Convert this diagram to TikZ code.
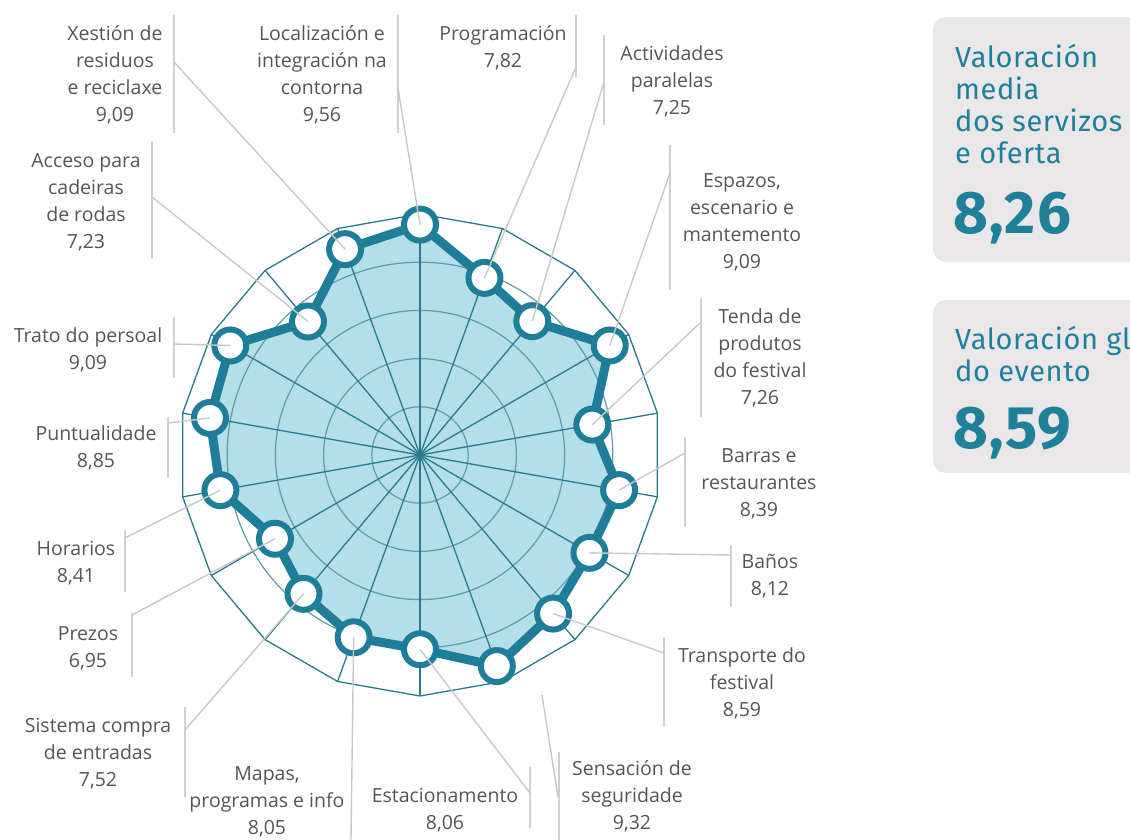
\documentclass[tikz,border=0pt]{standalone}
\usepackage{fontspec}
\newfontfamily\labfont{Open Sans}
\newfontfamily\boxfont[LetterSpace=2]{Fira Sans}
\definecolor{tealc}{RGB}{30,126,153}
\definecolor{gridc}{RGB}{42,122,142}
\definecolor{fillb}{RGB}{180,222,234}
\definecolor{leadc}{RGB}{200,200,200}
\definecolor{barc}{RGB}{208,208,208}
\definecolor{labg}{RGB}{85,85,85}
\definecolor{boxbg}{RGB}{233,231,232}
\definecolor{boxtxt}{RGB}{31,128,153}
\tikzset{
  lab/.style={font=\labfont\fontsize{19.5}{27}\selectfont, text=labg, align=center, inner sep=0pt, anchor=north},
  barline/.style={draw=barc, line width=2pt},
  leader/.style={draw=leadc, line width=1.4pt},
  gridline/.style={draw=gridc, line width=1.3pt},
  ringline/.style={draw=gridc!75, line width=1.2pt},
  dataline/.style={draw=tealc, line width=9pt, line join=round},
  marker/.style={circle, draw=tealc, fill=white, line width=6pt, minimum size=32pt, inner sep=0pt},
  boxtext/.style={font=\boxfont\fontsize{29}{32}\selectfont, text=boxtxt, align=left, inner sep=0pt, anchor=north west},
  bignum/.style={font=\boxfont\bfseries\fontsize{60}{60}\selectfont, text=boxtxt, inner sep=0pt, anchor=base west},
  panel/.style={fill=boxbg, rounded corners=13pt}
}
\begin{document}
\begin{tikzpicture}[x=1pt,y=-1pt]
\useasboundingbox (0,0) rectangle (1130,840);
\clip (0,0) rectangle (1130,840);
% radar
\begin{scope}[shift={(420,455)}, yscale=-1]
  \foreach \v [count=\i] in {9.56,7.82,7.25,9.09,7.26,8.39,8.12,8.59,9.32,8.06,8.05,7.52,6.95,8.41,8.85,9.09,7.23,9.09}
    \coordinate (p\i) at ({90-20*(\i-1)}:{\v*24.1});
  \fill[fillb] (p1) \foreach \i in {2,...,18} { -- (p\i) } -- cycle;
  \coordinate (c0) at (0,0);
  \foreach \r in {2,4,6,8}
    \draw[ringline] (c0) circle[radius={\r*24.1}];
  \draw[gridline] (10:241) \foreach \a in {30,50,...,350} { -- (\a:241) } -- cycle;
  \foreach \a in {10,30,...,350} \draw[gridline] (c0) -- (\a:241);
  \draw[dataline] (p1) \foreach \i in {2,...,18} { -- (p\i) } -- cycle;
  \foreach \i in {1,...,18} \node[marker] (m\i) at (p\i) {};
\end{scope}
% labels
\node[lab] (t18) at (115,24) {\rule{0pt}{16pt}Xestión de\\residuos\\e reciclaxe\\9,09};
\node[lab] (t1) at (322,24) {\rule{0pt}{16pt}Localización e\\integración na\\contorna\\9,56};
\node[lab] (t2) at (503,24) {\rule{0pt}{16pt}Programación\\7,82};
\node[lab] (t3) at (672,44) {\rule{0pt}{16pt}Actividades\\paralelas\\7,25};
\node[lab] (t4) at (742,171) {\rule{0pt}{16pt}Espazos,\\escenario e\\mantemento\\9,09};
\node[lab] (t5) at (760,307) {\rule{0pt}{16pt}Tenda de\\produtos\\do festival\\7,26};
\node[lab] (t6) at (759,446) {\rule{0pt}{16pt}Barras e\\restaurantes\\8,39};
\node[lab] (t7) at (770,552) {\rule{0pt}{16pt}Baños\\8,12};
\node[lab] (t8) at (742,646) {\rule{0pt}{16pt}Transporte do\\festival\\8,59};
\node[lab] (t9) at (632,759) {\rule{0pt}{16pt}Sensación de\\seguridade\\9,32};
\node[lab] (t10) at (445,786) {\rule{0pt}{16pt}Estacionamento\\8,06};
\node[lab] (t11) at (267,764) {\rule{0pt}{16pt}Mapas,\\programas e info\\8,05};
\node[lab] (t12) at (98,716) {\rule{0pt}{16pt}Sistema compra\\de entradas\\7,52};
\node[lab] (t13) at (88,624) {\rule{0pt}{16pt}Prezos\\6,95};
\node[lab] (t14) at (76,539) {\rule{0pt}{16pt}Horarios\\8,41};
\node[lab] (t15) at (96,424) {\rule{0pt}{16pt}Puntualidade\\8,85};
\node[lab] (t16) at (88,326) {\rule{0pt}{16pt}Trato do persoal\\9,09};
\node[lab] (t17) at (86,151) {\rule{0pt}{16pt}Acceso para\\cadeiras\\de rodas\\7,23};
% bars (top, bottom) and leader attach points
\foreach \n/\x/\ya/\yb/\yc in {18/174/15/133/62, 1/398/15/133/88, 2/576/15/77/67, 3/604/35/125/82,
    4/670/145/290/173, 5/701/298/417/322, 6/685/437/527/453, 7/731/545/607/555,
    8/664/638/727/653, 10/530/767/828/793, 12/185/707/797/730, 13/132/613/677/615,
    14/125/530/592/538, 15/168/417/478/423, 16/174/317/378/344, 17/152/142/258/197} {
  \coordinate (bt\n) at (\x,\ya);
  \coordinate (bb\n) at (\x,\yb);
  \coordinate (ba\n) at (\x,\yc);
  \draw[barline] (bt\n) -- (bb\n);
  \draw[leader] (m\n.center) -- (ba\n);
}
% Sensacion: bar plus detached leader
\coordinate (bt9) at (559,752);
\coordinate (bb9) at (559,840);
\coordinate (ls9) at (542,695);
\coordinate (ba9) at (558,797);
\draw[barline] (bt9) -- (bb9);
\draw[leader] (ls9) -- (ba9);
% Mapas: straight line down
\coordinate (ba11) at (351,840);
\draw[leader] (m11.center) -- (ba11);
% panels
\fill[panel] (933,17) rectangle (1160,262);
\fill[panel] (933,300) rectangle (1160,473);
\node[boxtext] (v1) at (955,43) {\rule{0pt}{24pt}Valoración\\media\\dos servizos\\e oferta};
\node[bignum] (n1) at (953,233) {8,26};
\node[boxtext] (v2) at (955,325) {\rule{0pt}{24pt}Valoración global\\do evento};
\node[bignum] (n2) at (953,448) {8,59};
\end{tikzpicture}
\end{document}
